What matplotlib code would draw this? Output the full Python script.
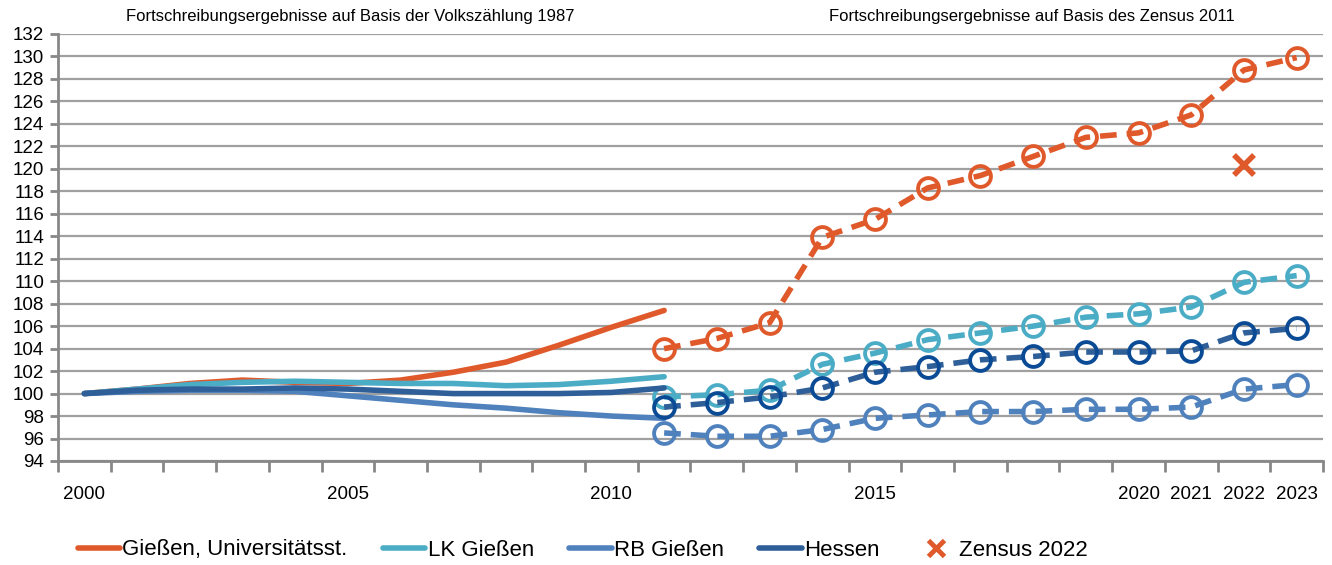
import matplotlib
matplotlib.use("Agg")
import matplotlib.pyplot as plt
from matplotlib.lines import Line2D

plt.rcParams["font.family"] = ["Liberation Sans", "DejaVu Sans"]

# ── data ──────────────────────────────────────────────────────────────────────
years_old = list(range(2000, 2012))          # Volkszählung 1987 basis
years_new = list(range(2011, 2024))          # Zensus 2011 basis
all_years = list(range(2000, 2024))
tick_years = [2000, 2005, 2010, 2015, 2020, 2021, 2022, 2023]

uni_old    = [100.0, 100.4, 100.9, 101.2, 101.0, 100.9, 101.2, 101.9, 102.8, 104.3, 105.9, 107.4]
lk_old     = [100.0, 100.4, 100.8, 101.0, 101.1, 101.0, 100.9, 100.9, 100.7, 100.8, 101.1, 101.5]
rb_old     = [100.0, 100.2, 100.3, 100.3, 100.2, 99.8, 99.4, 99.0, 98.7, 98.3, 98.0, 97.8]
hessen_old = [100.0, 100.3, 100.4, 100.4, 100.5, 100.4, 100.2, 100.0, 100.0, 100.0, 100.1, 100.5]

uni_new    = [104.0, 104.9, 106.3, 113.9, 115.5, 118.3, 119.4, 121.1, 122.8, 123.2, 124.8, 128.8, 129.9]
lk_new     = [99.7, 99.9, 100.3, 102.6, 103.6, 104.8, 105.4, 106.0, 106.8, 107.1, 107.7, 109.9, 110.5]
rb_new     = [96.5, 96.2, 96.2, 96.8, 97.8, 98.1, 98.4, 98.4, 98.6, 98.6, 98.8, 100.4, 100.8]
hessen_new = [98.8, 99.2, 99.7, 100.5, 101.9, 102.4, 103.0, 103.3, 103.7, 103.7, 103.8, 105.4, 105.8]

zensus_year  = 2022
zensus_value = 120.3

labels = ["Gießen, Universitätsst.", "LK Gießen", "RB Gießen", "Hessen", "Zensus 2022"]

C_UNI    = "#E0592A"
C_LK     = "#4BACC6"
C_RB     = "#4F81BD"
C_HESSEN = "#2F5F98"
C_HESSEN_MK = "#0B4B95"
GRID     = "#A0A0A0"

# categories → positions 0..23
pos = {y: i for i, y in enumerate(all_years)}
x_old = [pos[y] for y in years_old]
x_new = [pos[y] for y in years_new]

fig = plt.figure(figsize=(13.32, 5.65), dpi=100)
ax = fig.add_axes([58 / 1332, 1 - 461 / 565, (1323 - 58) / 1332, (461 - 34) / 565])

lw = 4.0
series = [
    (uni_old, uni_new, C_UNI, C_UNI),
    (lk_old, lk_new, C_LK, C_LK),
    (rb_old, rb_new, C_RB, C_RB),
    (hessen_old, hessen_new, C_HESSEN, C_HESSEN_MK),
]
for old, new, col, mk in series:
    ax.plot(x_old, old, color=col, lw=lw, solid_capstyle="round",
            solid_joinstyle="round", zorder=3)
    ax.plot(x_new, new, color=col, lw=lw, dashes=(3.0, 1.8), zorder=3,
            marker="o", markersize=15, markerfacecolor="none",
            markeredgecolor=mk, markeredgewidth=2.8)

ax.plot([pos[zensus_year]], [zensus_value], marker="x", color=C_UNI,
        markersize=15, markeredgewidth=4, linestyle="none", zorder=4)

# ── axes styling ──────────────────────────────────────────────────────────────
ax.set_xlim(-0.5, len(all_years) - 0.5)
ax.set_ylim(94, 132)
ax.set_yticks(range(94, 133, 2))
ax.yaxis.grid(True, color=GRID, lw=1.6)
ax.set_axisbelow(True)

ax.set_xticks([i - 0.5 for i in range(len(all_years) + 1)])
ax.set_xticklabels([])
ax.set_xticks([pos[y] for y in tick_years], minor=True)
ax.set_xticklabels([str(y) for y in tick_years], minor=True)
ax.tick_params(axis="x", which="major", length=8, width=2, color="#888888")
ax.tick_params(axis="x", which="minor", length=0, pad=18, labelsize=13.5)
ax.tick_params(axis="y", length=6, width=2, color="#888888", labelsize=13.5, pad=4)

for side in ["top", "right"]:
    ax.spines[side].set_visible(False)
for side in ["left", "bottom"]:
    ax.spines[side].set_color("#888888")
    ax.spines[side].set_linewidth(2)

fig.text(350 / 1332, 1 - 17 / 565, "Fortschreibungsergebnisse auf Basis der Volkszählung 1987",
         ha="center", va="center", fontsize=12)
fig.text(1032 / 1332, 1 - 17 / 565, "Fortschreibungsergebnisse auf Basis des Zensus 2011",
         ha="center", va="center", fontsize=12)

# ── legend ────────────────────────────────────────────────────────────────────
handles = [
    Line2D([], [], color=C_UNI, lw=lw, solid_capstyle="round"),
    Line2D([], [], color=C_LK, lw=lw, solid_capstyle="round"),
    Line2D([], [], color=C_RB, lw=lw, solid_capstyle="round"),
    Line2D([], [], color=C_HESSEN, lw=lw, solid_capstyle="round"),
    Line2D([], [], color=C_UNI, marker="x", linestyle="none", markersize=11, markeredgewidth=3.5),
]
fig.legend(handles, labels, loc="center", bbox_to_anchor=(583 / 1332, 1 - 550 / 565),
           ncol=5, frameon=False, fontsize=16, handlelength=1.9, handletextpad=0.1,
           columnspacing=1.6)

fig.savefig("out.png", dpi=100)
